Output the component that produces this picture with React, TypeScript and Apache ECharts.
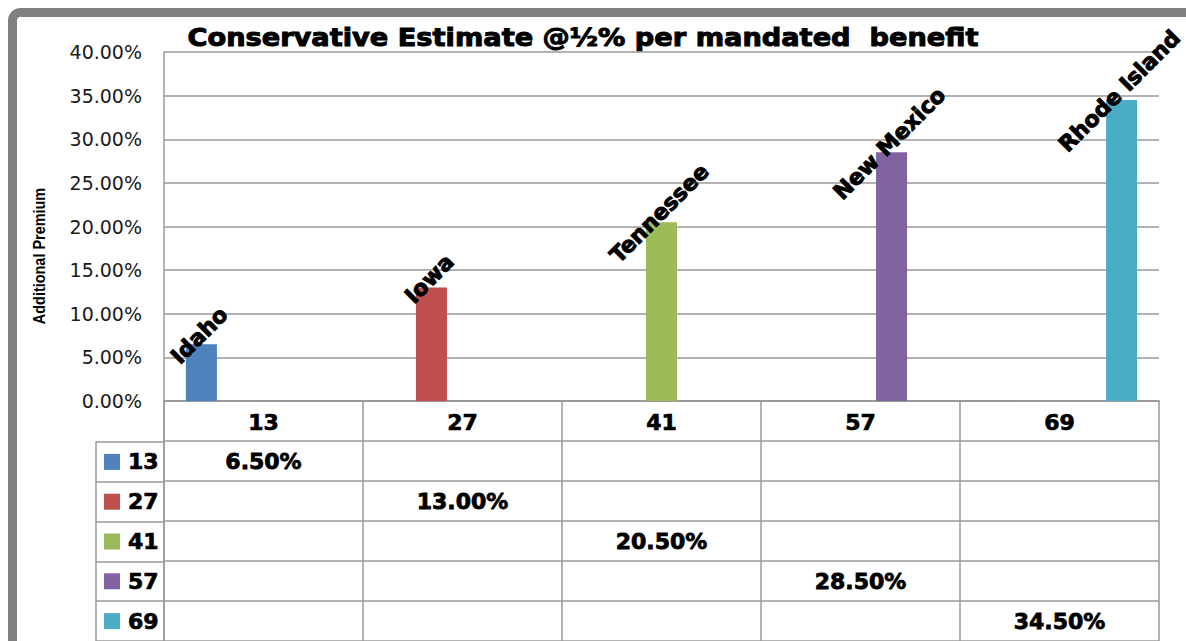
import React, { useEffect, useRef } from 'react';
import * as echarts from 'echarts';

const categories = ['13', '27', '41', '57', '69'];
const states = ['Idaho', 'Iowa', 'Tennessee', 'New Mexico', 'Rhode Island'];
const premiums = [0.065, 0.13, 0.205, 0.285, 0.345];
const colors = ['#4F81BD', '#C0504D', '#9BBB59', '#8064A2', '#4BACC6'];
const titleText = 'Conservative Estimate @½% per mandated  benefit';
const yAxisTitle = 'Additional Premium';
const yMin = 0;
const yMax = 0.4;
const yStep = 0.05;

const HEAVY = '"DejaVu Sans", "Liberation Sans", sans-serif';
const LINE = '#9a9a9a';

const pct = (v: number) => (v * 100).toFixed(2) + '%';

export default function App() {
  const ref = useRef<HTMLDivElement>(null);
  useEffect(() => {
    if (!ref.current) return;
    const chart = echarts.init(ref.current, null, { renderer: 'svg' });

    const rich: Record<string, any> = {
      t: {
        fontFamily: HEAVY,
        fontWeight: 'bold',
        fontSize: 22,
        color: '#000',
        textBorderColor: '#000',
        textBorderWidth: 0.7,
        padding: [0, 0, 0, 8],
      },
    };
    colors.forEach((c, i) => {
      rich['k' + i] = { backgroundColor: c, width: 16, height: 16 };
    });

    const barSeries = categories.map((c, i) => ({
      type: 'bar',
      name: c,
      xAxisIndex: 0,
      yAxisIndex: 0,
      data: categories.map((_, j) => (j === i ? premiums[i] : '-')),
      itemStyle: { color: colors[i] },
      barGap: '0%',
      barCategoryGap: '22%',
      label: {
        show: true,
        position: 'top',
        distance: 11,
        rotate: 45,
        align: 'center',
        verticalAlign: 'middle',
        offset: [-3, 0],
        formatter: () => states[i],
        fontFamily: HEAVY,
        fontWeight: 'bold',
        fontSize: 22,
        color: '#000',
        textBorderColor: '#000',
        textBorderWidth: 1,
      },
    }));

    const tableSeries = {
      type: 'scatter',
      xAxisIndex: 1,
      yAxisIndex: 1,
      symbolSize: 1,
      itemStyle: { color: 'rgba(0,0,0,0)', opacity: 1 },
      data: categories.map((c, i) => [c, c, premiums[i]]),
      label: {
        show: true,
        position: 'inside',
        formatter: (p: any) => pct(p.value[2]),
        fontFamily: HEAVY,
        fontWeight: 'bold',
        fontSize: 22,
        color: '#000',
        opacity: 1,
        textBorderColor: '#000',
        textBorderWidth: 0.8,
      },
    };

    chart.setOption({
      animation: false,
      backgroundColor: '#fff',
      grid: [
        { left: 164, right: 27, top: 52, height: 349 },
        { left: 164, right: 27, top: 401, height: 247 },
        { left: 96, width: 68, top: 442, height: 206 },
      ],
      xAxis: [
        {
          gridIndex: 0,
          type: 'category',
          data: categories,
          axisLine: { show: true, lineStyle: { color: LINE, width: 1.5 } },
          axisTick: { show: false },
          axisLabel: {
            margin: 10,
            fontFamily: HEAVY,
            fontWeight: 'bold',
            fontSize: 22,
            color: '#000',
            textBorderColor: '#000',
            textBorderWidth: 0.7,
          },
        },
        {
          gridIndex: 1,
          type: 'category',
          data: categories,
          position: 'top',
          axisLine: { show: true, lineStyle: { color: LINE, width: 1.5 } },
          axisTick: { show: false },
          axisLabel: { show: false },
          splitLine: { show: true, lineStyle: { color: LINE, width: 1.5 } },
        },
        { gridIndex: 2, type: 'value', show: false },
      ],
      yAxis: [
        {
          gridIndex: 0,
          type: 'value',
          min: yMin,
          max: yMax,
          interval: yStep,
          axisLine: { show: true, lineStyle: { color: LINE, width: 1.5 } },
          axisTick: { show: false },
          splitLine: { show: true, lineStyle: { color: LINE, width: 1.5 } },
          axisLabel: {
            margin: 22,
            formatter: (v: number) => pct(v),
            fontFamily: '"DejaVu Sans", sans-serif',
            fontSize: 19,
            color: '#1a1a1a',
          },
        },
        {
          gridIndex: 1,
          type: 'category',
          data: ['hdr', ...categories],
          inverse: true,
          axisLine: { show: true, lineStyle: { color: LINE, width: 1.5 } },
          axisTick: { show: false },
          axisLabel: { show: false },
          splitLine: { show: true, lineStyle: { color: LINE, width: 1.5 } },
        },
        {
          gridIndex: 2,
          type: 'category',
          data: categories,
          inverse: true,
          axisLine: { show: true, lineStyle: { color: LINE, width: 1.5 } },
          axisTick: { show: false },
          splitLine: { show: true, lineStyle: { color: LINE, width: 1.5 } },
          axisLabel: {
            inside: true,
            margin: 8,
            formatter: (v: string, i: number) => `{k${i}|}{t|${v}}`,
            rich,
          },
        },
      ],
      graphic: [
        {
          type: 'rect',
          shape: { x: 12.5, y: 12.5, width: 1260, height: 720, r: 8 },
          style: { fill: 'none', stroke: '#808080', lineWidth: 9 },
          z: 100,
        },
        {
          type: 'text',
          x: 583,
          y: 37,
          scaleX: 1.09,
          style: {
            text: titleText,
            font: `bold 25px ${HEAVY}`,
            fill: '#000',
            stroke: '#000',
            lineWidth: 1,
            textAlign: 'center',
            textVerticalAlign: 'middle',
          },
        },
        {
          type: 'text',
          x: 39,
          y: 256,
          rotation: Math.PI / 2,
          scaleX: 0.85,
          style: {
            text: yAxisTitle,
            font: 'bold 17px "Liberation Sans", sans-serif',
            fill: '#000',
            textAlign: 'center',
            textVerticalAlign: 'middle',
          },
        },
      ],
      series: [...barSeries, tableSeries],
    });
    return () => chart.dispose();
  }, []);
  return (
    <div
      ref={ref}
      style={{ position: 'fixed', left: 0, top: 0, width: 1186, height: 641, background: '#fff' }}
    />
  );
}
